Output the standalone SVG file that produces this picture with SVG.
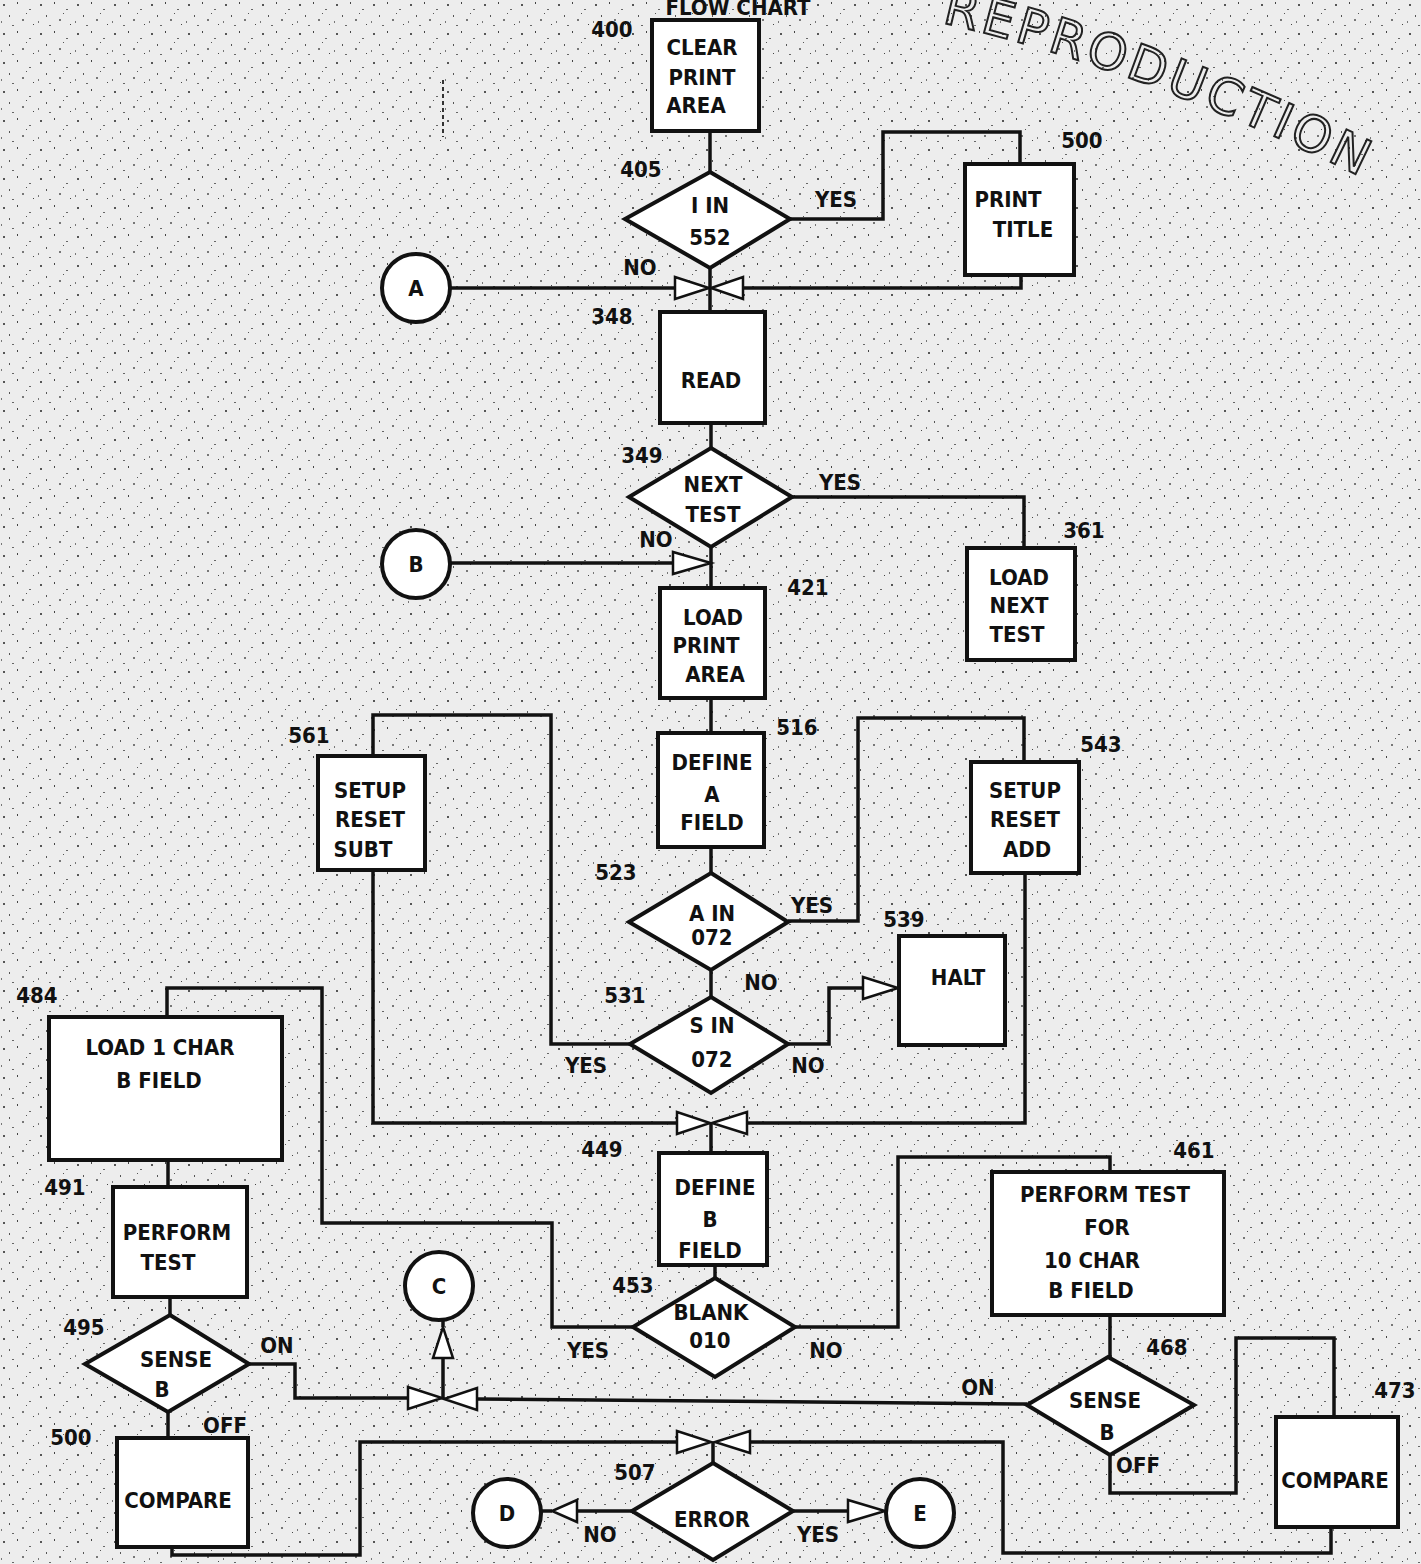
<svg xmlns="http://www.w3.org/2000/svg" width="1421" height="1564" viewBox="0 0 1421 1564">
<defs>
<pattern id="noise" width="37" height="29" patternUnits="userSpaceOnUse">
<rect x="3" y="4" width="2" height="2" fill="#555"/>
<rect x="17" y="2" width="1" height="2" fill="#444"/>
<rect x="29" y="9" width="2" height="1" fill="#666"/>
<rect x="9" y="15" width="1" height="2" fill="#555"/>
<rect x="22" y="19" width="2" height="2" fill="#777"/>
<rect x="33" y="24" width="1" height="1" fill="#444"/>
<rect x="12" y="25" width="2" height="1" fill="#666"/>
<rect x="26" y="13" width="1" height="1" fill="#555"/>
<rect x="1" y="21" width="1" height="2" fill="#777"/>
</pattern>
<path id="stampArc" d="M 930,20 Q 1160,70 1430,212"/>
</defs>
<style>
.box{fill:#fff;stroke:#111;stroke-width:4}
.dia{fill:#fff;stroke:#111;stroke-width:4;stroke-linejoin:miter}
.con{fill:none;stroke:#111;stroke-width:3.5;stroke-linejoin:miter}
.tri{fill:#fff;stroke:#111;stroke-width:2.5;stroke-linejoin:miter}
.t,.n{font-family:"DejaVu Sans Condensed","DejaVu Sans","Liberation Sans",sans-serif;font-weight:bold;font-size:22px;fill:#111;text-anchor:middle}
.stamp{font-family:"DejaVu Sans","Liberation Sans",sans-serif;font-size:50px;fill:none;stroke:#222;stroke-width:2;letter-spacing:4px}
</style>
<rect width="1421" height="1564" fill="#ededed"/>
<rect width="1421" height="1564" fill="url(#noise)"/>

<text class="stamp"><textPath href="#stampArc" startOffset="12">REPRODUCTION</textPath></text>
<text class="n" x="738" y="15">FLOW CHART</text>
<line x1="443" y1="80" x2="443" y2="137" stroke="#333" stroke-width="2" stroke-dasharray="4 3"/>

<g id="connectors">
<polyline class="con" points="710,131 710,172"/>
<polyline class="con" points="790,219 883,219 883,132 1020,132 1020,164"/>
<polyline class="con" points="1021,275 1021,288 743,288"/>
<polyline class="con" points="450,288 675,288"/>
<polyline class="con" points="710,268 710,312"/>
<polyline class="con" points="711,423 711,448"/>
<polyline class="con" points="792,497 1024,497 1024,548"/>
<polyline class="con" points="711,547 711,588"/>
<polyline class="con" points="450,563 673,563"/>
<polyline class="con" points="711,698 711,733"/>
<polyline class="con" points="711,847 711,873"/>
<polyline class="con" points="788,921 858,921 858,718 1024,718 1024,762"/>
<polyline class="con" points="711,970 711,997"/>
<polyline class="con" points="788,1044 829,1044 829,988 863,988"/>
<polyline class="con" points="630,1044 551,1044 551,715 373,715 373,756"/>
<polyline class="con" points="373,870 373,1123 677,1123"/>
<polyline class="con" points="1025,873 1025,1123 747,1123"/>
<polyline class="con" points="711,1123 711,1153"/>
<polyline class="con" points="715,1265 715,1278"/>
<polyline class="con" points="633,1327 552,1327 552,1223 322,1223 322,988 167,988 167,1017"/>
<polyline class="con" points="795,1327 898,1327 898,1157 1110,1157 1110,1172"/>
<polyline class="con" points="168,1160 168,1187"/>
<polyline class="con" points="170,1297 170,1315"/>
<polyline class="con" points="249,1364 295,1364 295,1398 408,1398"/>
<polyline class="con" points="443,1398 443,1358"/>
<polyline class="con" points="443,1320 443,1327"/>
<polyline class="con" points="1027,1404 477,1399"/>
<polyline class="con" points="1110,1315 1110,1357"/>
<polyline class="con" points="1110,1455 1110,1493 1236,1493 1236,1338 1334,1338 1334,1417"/>
<polyline class="con" points="1331,1527 1331,1553 1003,1553 1003,1442 750,1442"/>
<polyline class="con" points="172,1547 172,1555 360,1555 360,1442 677,1442"/>
<polyline class="con" points="713,1442 713,1463"/>
<polyline class="con" points="168,1412 168,1438"/>
<polyline class="con" points="632,1511 577,1511"/>
<polyline class="con" points="552,1511 540,1511"/>
<polyline class="con" points="793,1511 848,1511"/>
<polygon class="tri" points="675,277 675,299 709,288"/>
<polygon class="tri" points="743,277 743,299 711,288"/>
<polygon class="tri" points="673,552 673,574 711,563"/>
<polygon class="tri" points="677,1112 677,1134 710,1123"/>
<polygon class="tri" points="747,1112 747,1134 712,1123"/>
<polygon class="tri" points="863,977 863,999 898,988"/>
<polygon class="tri" points="408,1387 408,1409 442,1398"/>
<polygon class="tri" points="477,1388 477,1410 444,1399"/>
<polygon class="tri" points="433,1358 453,1358 443,1327"/>
<polygon class="tri" points="677,1431 677,1453 711,1442"/>
<polygon class="tri" points="750,1431 750,1453 715,1442"/>
<polygon class="tri" points="577,1500 577,1522 552,1511"/>
<polygon class="tri" points="848,1500 848,1522 885,1511"/>
</g>

<g id="n400"><rect class="box" x="652" y="20" width="107" height="111"/>
<text class="t" x="702" y="55">CLEAR</text><text class="t" x="702" y="85">PRINT</text><text class="t" x="696" y="113">AREA</text>
<text class="n" x="612" y="37">400</text></g>

<g id="n405"><polygon class="dia" points="710,172 790,219 710,268 625,219"/>
<text class="t" x="710" y="213">I IN</text><text class="t" x="710" y="245">552</text>
<text class="n" x="641" y="177">405</text><text class="n" x="836" y="207">YES</text><text class="n" x="640" y="275">NO</text></g>

<g id="n500t"><rect class="box" x="965" y="164" width="109" height="111"/>
<text class="t" x="1008" y="207">PRINT</text><text class="t" x="1023" y="237">TITLE</text>
<text class="n" x="1082" y="148">500</text></g>

<g id="cA"><circle class="box" cx="416" cy="288" r="34"/><text class="t" x="416" y="296">A</text></g>

<g id="n348"><rect class="box" x="660" y="312" width="105" height="111"/>
<text class="t" x="711" y="388">READ</text><text class="n" x="612" y="324">348</text></g>

<g id="n349"><polygon class="dia" points="711,448 792,497 711,547 629,497"/>
<text class="t" x="713" y="492">NEXT</text><text class="t" x="713" y="522">TEST</text>
<text class="n" x="642" y="463">349</text><text class="n" x="840" y="490">YES</text><text class="n" x="656" y="547">NO</text></g>

<g id="n361"><rect class="box" x="967" y="548" width="108" height="112"/>
<text class="t" x="1019" y="585">LOAD</text><text class="t" x="1019" y="613">NEXT</text><text class="t" x="1017" y="642">TEST</text>
<text class="n" x="1084" y="538">361</text></g>

<g id="cB"><circle class="box" cx="416" cy="564" r="34"/><text class="t" x="416" y="572">B</text></g>

<g id="n421"><rect class="box" x="660" y="588" width="105" height="110"/>
<text class="t" x="713" y="625">LOAD</text><text class="t" x="706" y="653">PRINT</text><text class="t" x="715" y="682">AREA</text>
<text class="n" x="808" y="595">421</text></g>

<g id="n516"><rect class="box" x="658" y="733" width="106" height="114"/>
<text class="t" x="712" y="770">DEFINE</text><text class="t" x="712" y="802">A</text><text class="t" x="712" y="830">FIELD</text>
<text class="n" x="797" y="735">516</text></g>

<g id="n523"><polygon class="dia" points="711,873 788,922 711,970 629,922"/>
<text class="t" x="712" y="921">A IN</text><text class="t" x="712" y="945">072</text>
<text class="n" x="616" y="880">523</text><text class="n" x="812" y="913">YES</text><text class="n" x="761" y="990">NO</text></g>

<g id="n543"><rect class="box" x="971" y="762" width="108" height="111"/>
<text class="t" x="1025" y="798">SETUP</text><text class="t" x="1025" y="827">RESET</text><text class="t" x="1027" y="857">ADD</text>
<text class="n" x="1101" y="752">543</text></g>

<g id="n561"><rect class="box" x="318" y="756" width="107" height="114"/>
<text class="t" x="370" y="798">SETUP</text><text class="t" x="370" y="827">RESET</text><text class="t" x="363" y="857">SUBT</text>
<text class="n" x="309" y="743">561</text></g>

<g id="n539"><rect class="box" x="899" y="936" width="106" height="109"/>
<text class="t" x="958" y="985">HALT</text><text class="n" x="904" y="927">539</text></g>

<g id="n531"><polygon class="dia" points="711,997 788,1044 711,1093 630,1044"/>
<text class="t" x="712" y="1033">S IN</text><text class="t" x="712" y="1067">072</text>
<text class="n" x="625" y="1003">531</text><text class="n" x="586" y="1073">YES</text><text class="n" x="808" y="1073">NO</text></g>

<g id="n449"><rect class="box" x="659" y="1153" width="108" height="112"/>
<text class="t" x="715" y="1195">DEFINE</text><text class="t" x="710" y="1227">B</text><text class="t" x="710" y="1258">FIELD</text>
<text class="n" x="602" y="1157">449</text></g>

<g id="n453"><polygon class="dia" points="715,1278 795,1327 715,1377 633,1327"/>
<text class="t" x="711" y="1320">BLANK</text><text class="t" x="710" y="1348">010</text>
<text class="n" x="633" y="1293">453</text><text class="n" x="588" y="1358">YES</text><text class="n" x="826" y="1358">NO</text></g>

<g id="n461"><rect class="box" x="992" y="1172" width="232" height="143"/>
<text class="t" x="1105" y="1202">PERFORM  TEST</text><text class="t" x="1107" y="1235">FOR</text><text class="t" x="1092" y="1268">10 CHAR</text><text class="t" x="1091" y="1298">B FIELD</text>
<text class="n" x="1194" y="1158">461</text></g>

<g id="n484"><rect class="box" x="49" y="1017" width="233" height="143"/>
<text class="t" x="160" y="1055">LOAD  1  CHAR</text><text class="t" x="159" y="1088">B FIELD</text>
<text class="n" x="37" y="1003">484</text></g>

<g id="n491"><rect class="box" x="113" y="1187" width="134" height="110"/>
<text class="t" x="177" y="1240">PERFORM</text><text class="t" x="168" y="1270">TEST</text>
<text class="n" x="65" y="1195">491</text></g>

<g id="n495"><polygon class="dia" points="170,1315 249,1364 168,1412 85,1364"/>
<text class="t" x="176" y="1367">SENSE</text><text class="t" x="162" y="1397">B</text>
<text class="n" x="84" y="1335">495</text><text class="n" x="277" y="1353">ON</text><text class="n" x="225" y="1433">OFF</text></g>

<g id="cC"><circle class="box" cx="439" cy="1286" r="34"/><text class="t" x="439" y="1294">C</text></g>

<g id="n468"><polygon class="dia" points="1108,1357 1194,1405 1110,1455 1027,1405"/>
<text class="t" x="1105" y="1408">SENSE</text><text class="t" x="1107" y="1440">B</text>
<text class="n" x="1167" y="1355">468</text><text class="n" x="978" y="1395">ON</text><text class="n" x="1138" y="1473">OFF</text></g>

<g id="n473"><rect class="box" x="1276" y="1417" width="122" height="110"/>
<text class="t" x="1335" y="1488">COMPARE</text><text class="n" x="1395" y="1398">473</text></g>

<g id="n500c"><rect class="box" x="117" y="1438" width="131" height="109"/>
<text class="t" x="178" y="1508">COMPARE</text><text class="n" x="71" y="1445">500</text></g>

<g id="n507"><polygon class="dia" points="713,1463 793,1511 713,1560 632,1511"/>
<text class="t" x="712" y="1527">ERROR</text>
<text class="n" x="635" y="1480">507</text><text class="n" x="600" y="1542">NO</text><text class="n" x="818" y="1542">YES</text></g>

<g id="cD"><circle class="box" cx="507" cy="1513" r="34"/><text class="t" x="507" y="1521">D</text></g>
<g id="cE"><circle class="box" cx="920" cy="1513" r="34"/><text class="t" x="920" y="1521">E</text></g>
</svg>
